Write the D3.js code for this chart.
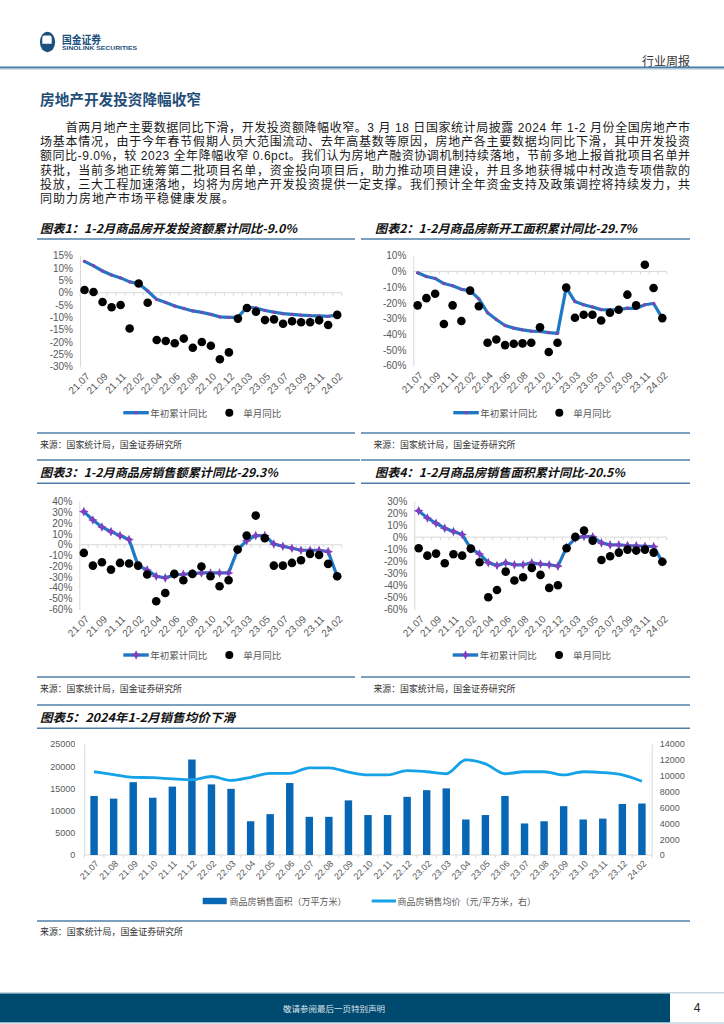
<!DOCTYPE html>
<html><head><meta charset="utf-8">
<script src="https://cdn.jsdelivr.net/npm/d3@7"></script>
<style>
html,body{margin:0;padding:0;background:#fff;}
svg{display:block;}
</style></head>
<body>
<svg id="page" width="724" height="1024"></svg>
<script>
// ---------------- DATA ----------------
const months = ["21.07","21.08","21.09","21.10","21.11","21.12","22.02","22.03","22.04","22.05","22.06","22.07","22.08","22.09","22.10","22.11","22.12","23.02","23.03","23.04","23.05","23.06","23.07","23.08","23.09","23.10","23.11","23.12","24.02"];
const lineTickLabels = ["21.07","21.09","21.11","22.02","22.04","22.06","22.08","22.10","22.12","23.03","23.05","23.07","23.09","23.11","24.02"];

// Chart 1: 开发投资额
const invCum   = [12.7,10.9,8.8,7.2,6.0,4.4,3.7,0.7,-2.7,-4.0,-5.4,-6.4,-7.4,-8.0,-8.8,-9.8,-10.0,-10.0,-5.8,-6.2,-7.2,-7.9,-8.5,-8.8,-9.1,-9.3,-9.4,-9.6,-9.0];
const invMonth = [1.1,0.3,-3.8,-5.9,-5.0,-14.5,3.7,-4.1,-19.2,-19.6,-20.5,-18.6,-22.3,-20.0,-21.5,-27.0,-24.2,-10.5,-6.2,-7.7,-11.1,-10.8,-12.6,-11.6,-12.0,-12.0,-11.2,-13.1,-9.0];
const ticks1 = [15,10,5,0,-5,-10,-15,-20,-25,-30];

// Chart 2: 新开工面积
const startCum   = [-0.9,-3.2,-4.5,-7.7,-9.1,-11.4,-12.2,-17.5,-26.3,-30.6,-34.4,-36.1,-37.2,-38.0,-38.2,-38.9,-39.4,-10.3,-19.2,-21.2,-22.6,-24.3,-24.5,-24.4,-23.4,-23.6,-21.2,-20.4,-29.7];
const startMonth = [-21.6,-17.0,-14.2,-33.5,-21.6,-31.6,-12.2,-22.2,-45.4,-43.3,-46.9,-46.0,-45.8,-45.4,-35.6,-51.3,-45.4,-10.3,-29.5,-27.6,-27.6,-31.2,-26.3,-24.4,-14.8,-21.6,4.2,-10.6,-29.7];
const ticks2 = [10,0,-10,-20,-30,-40,-50,-60];

// Chart 3: 销售额
const salesValCum   = [30.8,23.0,16.5,12.2,8.5,4.8,-19.4,-23.4,-29.3,-30.8,-28.1,-27.4,-26.8,-26.2,-26.2,-26.2,-26.2,-4.5,3.8,8.5,8.5,0.7,-1.4,-3.3,-5.1,-5.1,-5.1,-6.4,-29.3];
const salesValMonth = [-7.6,-19.4,-16.3,-23.1,-16.9,-17.5,-19.4,-27.7,-52.5,-44.8,-27.1,-33.0,-27.1,-20.3,-29.3,-38.6,-33.0,-4.5,8.5,27.1,6.0,-19.4,-19.4,-16.9,-14.4,-8.5,-9.5,-17.8,-29.3];
const ticks3 = [40,30,20,10,0,-10,-20,-30,-40,-50,-60];

// Chart 4: 销售面积
const salesAreaCum   = [21.8,15.9,11.5,7.4,4.6,2.1,-9.6,-14.0,-21.2,-23.6,-21.4,-23.0,-23.0,-21.4,-22.4,-23.0,-24.1,-8.5,-1.0,0.6,0.3,-4.8,-6.5,-6.5,-7.0,-7.3,-7.6,-7.9,-20.5];
const salesAreaMonth = [-9.3,-15.4,-13.7,-21.7,-14.3,-15.4,-9.6,-20.9,-50.0,-43.9,-28.7,-36.1,-33.4,-25.6,-31.4,-42.2,-40.0,-9.3,0.2,5.4,-2.9,-19.0,-15.9,-12.9,-10.4,-11.2,-10.4,-12.9,-20.5];
const ticks4 = [30,20,10,0,-10,-20,-30,-40,-50,-60];

// Chart 5: 销售面积（万平方米）与均价（元/平方米）
const salesAreaBars = [13300,12700,16400,12900,15400,21500,15900,14900,7600,9200,16200,8600,8600,12300,9000,9000,13100,14600,15000,8000,9000,13300,7100,7600,11000,8000,8200,11500,11600];
const avgPrice      = [10500,10150,9800,9750,9600,9500,9900,9400,9800,10300,10300,11000,11000,10450,10100,10100,10650,10500,10250,12000,11500,10250,10500,10500,10100,10500,10400,10100,9300];
const ticks5L = [0,5000,10000,15000,20000,25000];
const ticks5R = [0,2000,4000,6000,8000,10000,12000,14000];

const paraLines = [
  "首两月地产主要数据同比下滑，开发投资额降幅收窄。3 月 18 日国家统计局披露 2024 年 1-2 月份全国房地产市",
  "场基本情况，由于今年春节假期人员大范围流动、去年高基数等原因，房地产各主要数据均同比下滑，其中开发投资",
  "额同比-9.0%，较 2023 全年降幅收窄 0.6pct。我们认为房地产融资协调机制持续落地，节前多地上报首批项目名单并",
  "获批，当前多地正统筹第二批项目名单，资金投向项目后，助力推动项目建设，并且多地获得城中村改造专项借款的",
  "投放，三大工程加速落地，均将为房地产开发投资提供一定支撑。我们预计全年资金支持及政策调控将持续发力，共",
  "同助力房地产市场平稳健康发展。"
];

// ---------------- STYLE ----------------
const svg = d3.select("#page");
const CN = '"Noto Sans CJK SC","Noto Sans",sans-serif';
const PARA = '"Liberation Sans","Noto Sans CJK SC",sans-serif';
const NUM = '"Liberation Sans",Arial,"Noto Sans CJK SC",sans-serif';
const RULE = "#4f7fa8";
const AXIS = "#d9d9d9";
const LABEL = "#595959";
const BLUE = "#1f78c4";
const PURPLE = "#7f3fbf";

function txt(x, y, s, opt) {
  const t = svg.append("text").attr("x", x).attr("y", y).text(s)
    .attr("dominant-baseline", "central")
    .style("font-family", opt.font || CN)
    .style("font-size", opt.size + "px")
    .attr("fill", opt.fill || "#222");
  if (opt.weight) t.style("font-weight", opt.weight);
  if (opt.italic) t.style("font-style", "italic");
  if (opt.anchor) t.attr("text-anchor", opt.anchor);
  if (opt.len) t.attr("textLength", opt.len).attr("lengthAdjust", "spacingAndGlyphs");
  if (opt.ls) t.style("letter-spacing", opt.ls + "px");
  return t;
}
function rule(x1, x2, y, w, c) {
  svg.append("line").attr("x1", x1).attr("x2", x2).attr("y1", y).attr("y2", y)
    .attr("stroke", c || RULE).attr("stroke-width", w || 1.5);
}

// ---------------- HEADER ----------------
svg.append("ellipse").attr("cx", 47.5).attr("cy", 42).attr("rx", 7.6).attr("ry", 10.2).attr("fill", "#1b4f7d");
svg.append("path").attr("d", "M44.5,35.5 h5 a2.2,2.2 0 0 1 2.2,2.2 v6 h-9.4 v-6 a2.2,2.2 0 0 1 2.2,-2.2 z").attr("fill", "#fff");
txt(62, 38.5, "国金证券", {size: 10.8, weight: "bold", fill: "#1b4f7d", len: 39});
txt(62, 48, "SINOLINK SECURITIES", {size: 5.8, weight: "bold", fill: "#1b4f7d", font: NUM, len: 75});
txt(690, 60.5, "行业周报", {size: 12, anchor: "end", fill: "#333"});
rule(0, 724, 67.5, 2, "#4a7ca6");
rule(0, 724, 69.3, 1, "#c5d6e4");

// ---------------- SECTION TITLE & PARAGRAPH ----------------
txt(40, 98.5, "房地产开发投资降幅收窄", {size: 15, weight: "bold", fill: "#1f4e79", len: 161});
paraLines.forEach((s, i) => {
  const x = i === 0 ? 65.7 : 40;
  const o = {size: 12, fill: "#1a1a1a", font: PARA};
  if (i < paraLines.length - 1) { o.len = 690 - x; }
  else { o.ls = 1; }
  const t = txt(x, 127.8 + i * 14.3, s, o);
  if (o.len) t.attr("lengthAdjust", "spacing");
});

// ---------------- LINE CHARTS ----------------
function star(cx, cy, s) {
  const k = s * 0.32;
  return `M${cx},${cy - s}L${cx + k},${cy - k}L${cx + s},${cy}L${cx + k},${cy + k}L${cx},${cy + s}L${cx - k},${cy + k}L${cx - s},${cy}L${cx - k},${cy - k}Z`;
}
function marker(g, cx, cy, type) {
  if (type === "star") g.append("path").attr("d", star(cx, cy, 4.8)).attr("fill", PURPLE);
  else g.append("circle").attr("cx", cx).attr("cy", cy).attr("r", 1.7).attr("fill", "#8e3fae");
}

function drawLineChart(o) {
  const x = d3.scaleBand().domain(months).range([o.x0, o.x1]);
  const cx = m => x(m) + x.bandwidth() / 2;
  const y = d3.scaleLinear().domain(o.domain).range([o.yBot, o.yTop]);
  const g = svg.append("g");

  const ya = g.append("g").attr("transform", `translate(${o.x0},0)`)
    .call(d3.axisLeft(y).tickValues(o.ticks).tickFormat(d => d + "%").tickSize(0).tickPadding(7));
  ya.select(".domain").attr("stroke", AXIS);
  ya.selectAll("text").attr("fill", LABEL).style("font-family", NUM).style("font-size", "10px");

  const y0 = y(0);
  g.append("line").attr("x1", o.x0).attr("x2", o.x1).attr("y1", y0).attr("y2", y0).attr("stroke", AXIS);
  g.selectAll(".tk").data(d3.range(months.length + 1)).join("line")
    .attr("x1", i => o.x0 + i * x.step()).attr("x2", i => o.x0 + i * x.step())
    .attr("y1", y0).attr("y2", y0 + 3).attr("stroke", AXIS);

  g.selectAll(".xl").data(lineTickLabels).join("text")
    .attr("transform", d => `translate(${cx(d) + 3.5},${o.yBot + 8}) rotate(-45)`)
    .attr("text-anchor", "end").attr("dy", "0.35em")
    .attr("fill", LABEL).style("font-family", NUM).style("font-size", "10px")
    .text(d => d);

  g.append("path").datum(o.cum)
    .attr("d", d3.line().x((d, i) => cx(months[i])).y(d => y(d)))
    .attr("fill", "none").attr("stroke", BLUE).attr("stroke-width", 3.2)
    .attr("stroke-linejoin", "round").attr("stroke-linecap", "round");
  o.cum.forEach((d, i) => marker(g, cx(months[i]), y(d), o.marker));

  g.selectAll(".dot").data(o.mon).join("circle")
    .attr("cx", (d, i) => cx(months[i])).attr("cy", d => y(d)).attr("r", 4.3).attr("fill", "#000");

  // legend
  const ly = o.legendY;
  g.append("line").attr("x1", o.legLine).attr("x2", o.legLine + 25.5).attr("y1", ly).attr("y2", ly)
    .attr("stroke", BLUE).attr("stroke-width", 3.4);
  marker(g, o.legLine + 12.8, ly, o.marker);
  g.append("text").attr("x", o.legLine + 27).attr("y", ly).attr("dominant-baseline", "central")
    .attr("fill", LABEL).style("font-family", CN).style("font-size", "9.5px").text("年初累计同比");
  g.append("circle").attr("cx", o.legDot).attr("cy", ly).attr("r", 4).attr("fill", "#000");
  g.append("text").attr("x", o.legDot + 14).attr("y", ly).attr("dominant-baseline", "central")
    .attr("fill", LABEL).style("font-family", CN).style("font-size", "9.5px").text("单月同比");
}

// block frames & titles
const SRC = "来源：国家统计局，国金证券研究所";
// Row 1
txt(40, 227.7, "图表1：1-2月商品房开发投资额累计同比-9.0%", {size: 12, weight: "bold", italic: true, fill: "#111", len: 257});
txt(375, 227.7, "图表2：1-2月商品房新开工面积累计同比-29.7%", {size: 12, weight: "bold", italic: true, fill: "#111", len: 262});
rule(37, 355, 239);
rule(361, 690, 239);
rule(37, 355, 433);
rule(361, 690, 433);
txt(40, 444, SRC, {size: 9, fill: "#333", len: 142});
txt(373.5, 444, SRC, {size: 9, fill: "#333", len: 142});

drawLineChart({x0: 80, x1: 341.7, yTop: 255.7, yBot: 366.7, domain: [-30, 15], ticks: ticks1,
  cum: invCum, mon: invMonth, marker: "dot", legendY: 412.7, legLine: 123.3, legDot: 229.3});
drawLineChart({x0: 413.3, x1: 666.7, yTop: 255.7, yBot: 365.7, domain: [-60, 10], ticks: ticks2,
  cum: startCum, mon: startMonth, marker: "dot", legendY: 412.7, legLine: 453.3, legDot: 559.3});

// Row 2
rule(37, 360, 460);
rule(361, 690, 460);
txt(40, 471, "图表3：1-2月商品房销售额累计同比-29.3%", {size: 12, weight: "bold", italic: true, fill: "#111", len: 238});
txt(375, 471, "图表4：1-2月商品房销售面积累计同比-20.5%", {size: 12, weight: "bold", italic: true, fill: "#111", len: 250});
rule(37, 355, 483.3);
rule(361, 690, 483.3);
rule(37, 355, 677);
rule(361, 690, 677);
txt(40, 688, SRC, {size: 9, fill: "#333", len: 142});
txt(373.5, 688, SRC, {size: 9, fill: "#333", len: 142});

drawLineChart({x0: 79.3, x1: 341.7, yTop: 501.7, yBot: 609.3, domain: [-60, 40], ticks: ticks3,
  cum: salesValCum, mon: salesValMonth, marker: "star", legendY: 655, legLine: 123.3, legDot: 229.3});
drawLineChart({x0: 414.3, x1: 666.7, yTop: 501, yBot: 609.3, domain: [-60, 30], ticks: ticks4,
  cum: salesAreaCum, mon: salesAreaMonth, marker: "star", legendY: 655, legLine: 452.7, legDot: 559});

// ---------------- CHART 5 ----------------
rule(37, 690, 705);
txt(40, 716, "图表5：2024年1-2月销售均价下滑", {size: 12, weight: "bold", italic: true, fill: "#111", len: 195});
rule(37, 690, 728.3);
rule(37, 690, 921);
txt(40, 931, SRC, {size: 9, fill: "#333", len: 143});

(function () {
  const x0 = 84.3, x1 = 651.7, yTop = 744, yBase = 855;
  const BAR = "#0767b5", LINE = "#16a2e6";
  const x = d3.scaleBand().domain(months).range([x0, x1]).paddingInner(0.62).paddingOuter(0.31);
  const cx = m => x(m) + x.bandwidth() / 2;
  const yL = d3.scaleLinear().domain([0, 25000]).range([yBase, yTop]);
  const yR = d3.scaleLinear().domain([0, 14000]).range([yBase, yTop]);
  const g = svg.append("g");

  const la = g.append("g").attr("transform", `translate(${x0},0)`)
    .call(d3.axisLeft(yL).tickValues(ticks5L).tickSize(0).tickPadding(9).tickFormat(d3.format("d")));
  la.select(".domain").attr("stroke", AXIS);
  la.selectAll("text").attr("fill", LABEL).style("font-family", NUM).style("font-size", "9px");
  const ra = g.append("g").attr("transform", `translate(${x1},0)`)
    .call(d3.axisRight(yR).tickValues(ticks5R).tickSize(0).tickPadding(8).tickFormat(d3.format("d")));
  ra.select(".domain").attr("stroke", AXIS);
  ra.selectAll("text").attr("fill", LABEL).style("font-family", NUM).style("font-size", "9px");

  g.append("line").attr("x1", x0).attr("x2", x1).attr("y1", yBase).attr("y2", yBase).attr("stroke", AXIS);
  g.selectAll(".tk").data(d3.range(months.length + 1)).join("line")
    .attr("x1", i => x0 + i * x.step()).attr("x2", i => x0 + i * x.step())
    .attr("y1", yBase).attr("y2", yBase + 3).attr("stroke", AXIS);

  g.selectAll(".bar").data(salesAreaBars).join("rect")
    .attr("x", (d, i) => x(months[i])).attr("width", x.bandwidth())
    .attr("y", d => yL(d)).attr("height", d => yBase - yL(d)).attr("fill", BAR);

  g.append("path").datum(avgPrice)
    .attr("d", d3.line().x((d, i) => cx(months[i])).y(d => yR(d)).curve(d3.curveMonotoneX))
    .attr("fill", "none").attr("stroke", LINE).attr("stroke-width", 2.8).attr("stroke-linejoin", "round");

  g.selectAll(".xl").data(months).join("text")
    .attr("transform", d => `translate(${cx(d) + 3},${yBase + 7}) rotate(-45)`)
    .attr("text-anchor", "end").attr("dy", "0.35em")
    .attr("fill", LABEL).style("font-family", NUM).style("font-size", "9px")
    .text(d => d);

  // legend
  const ly = 901;
  g.append("rect").attr("x", 202.7).attr("y", ly - 3.2).attr("width", 24).attr("height", 6.4).attr("fill", BAR);
  g.append("text").attr("x", 229.5).attr("y", ly).attr("dominant-baseline", "central")
    .attr("fill", LABEL).style("font-family", CN).style("font-size", "9px").text("商品房销售面积（万平方米）");
  g.append("line").attr("x1", 371.7).attr("x2", 396).attr("y1", ly).attr("y2", ly)
    .attr("stroke", LINE).attr("stroke-width", 3);
  g.append("text").attr("x", 397.5).attr("y", ly).attr("dominant-baseline", "central")
    .attr("fill", LABEL).style("font-family", CN).style("font-size", "9px").text("商品房销售均价（元/平方米，右）");
})();

// ---------------- FOOTER ----------------
rule(0, 724, 992.8, 1, "#a9c3d6");
svg.append("rect").attr("x", 0).attr("y", 993.5).attr("width", 670).attr("height", 29).attr("fill", "#004a6f");
rule(0, 724, 1023, 1, "#a9c3d6");
txt(334, 1008, "敬请参阅最后一页特别声明", {size: 8.5, anchor: "middle", fill: "#dbe4ec"});
txt(697, 1008, "4", {size: 12, anchor: "middle", fill: "#222", font: NUM});
</script>
</body></html>
